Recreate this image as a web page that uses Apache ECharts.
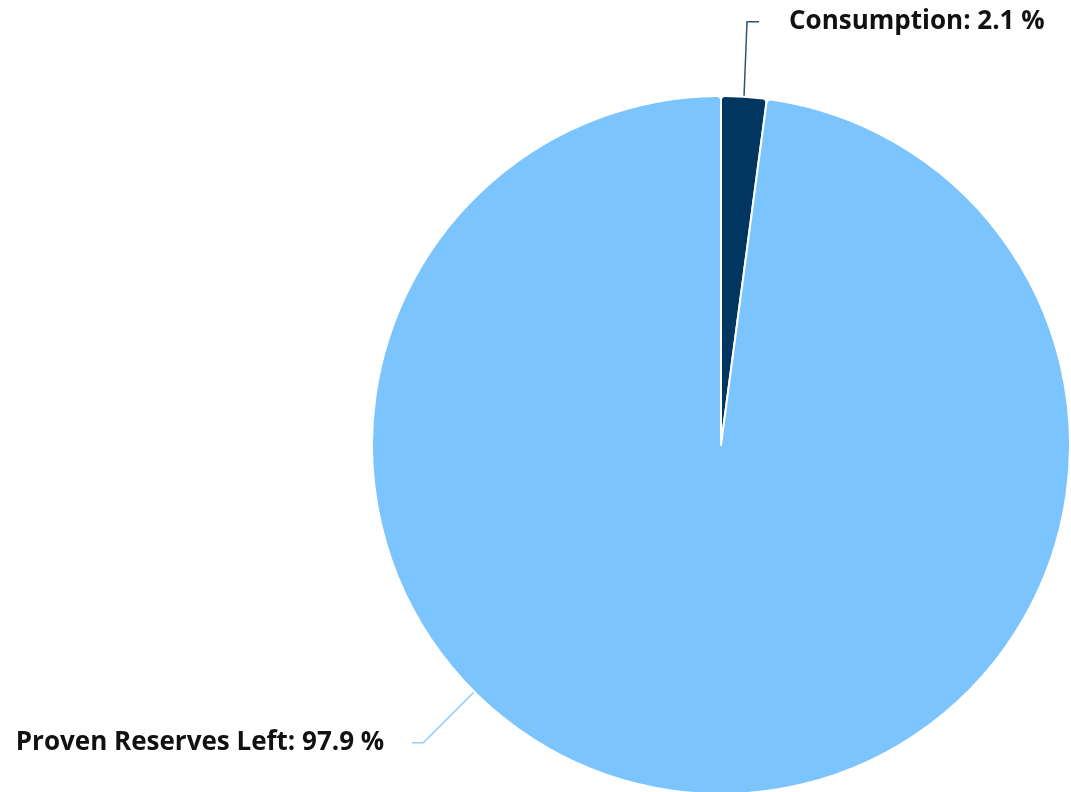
<!DOCTYPE html>
<html>
<head>
<meta charset="utf-8">
<script src="https://cdn.jsdelivr.net/npm/echarts@6/dist/echarts.min.js"></script>
<style>
  html, body { margin: 0; padding: 0; background: #ffffff; }
  #chart { width: 1071px; height: 792px; }
</style>
</head>
<body>
<div id="chart"></div>
<script>
// Share of proven reserves consumed vs. remaining (percent)
const categories = ['Consumption', 'Proven Reserves Left'];
const shares = [2.1, 97.9];
const colors = ['#00365f', '#7cc4fd'];

// Pie geometry (pixels)
const CX = 721, CY = 445, R = 349;

// Point on the pie rim, angle in degrees clockwise from 12 o'clock
function rimPoint(deg) {
  const a = deg * Math.PI / 180;
  return [CX + R * Math.sin(a), CY - R * Math.cos(a)];
}

const total = shares.reduce((s, v) => s + v, 0);

const chart = echarts.init(document.getElementById('chart'), null, { renderer: 'canvas' });

chart.setOption({
  animation: false,
  backgroundColor: '#ffffff',
  series: [{
    type: 'pie',
    center: [CX, CY],
    radius: [0, R],
    startAngle: 90,
    clockwise: true,
    avoidLabelOverlap: false,
    itemStyle: { borderColor: '#ffffff', borderWidth: 2, borderRadius: 4 },
    label: {
      show: true,
      formatter: p => p.name + ': ' + p.value.toFixed(1) + ' %',
      fontFamily: 'Open Sans',
      fontWeight: 'bold',
      fontSize: 26,
      color: '#111111'
    },
    labelLine: { show: true, lineStyle: { width: 1.5 } },
    labelLayout: function (params) {
      if (params.dataIndex === 0) {
        // leader from the middle of the small slice, straight up, then right
        const start = rimPoint(shares[0] / total * 180);
        const knee = [start[0] + 3, start[1] - 75];
        const end = [knee[0] + 12, knee[1]];
        return {
          x: end[0] + 30, y: end[1],
          align: 'left', verticalAlign: 'middle',
          labelLinePoints: [start, knee, end]
        };
      }
      // leader from the lower-left rim, diagonally down, then left
      const start = rimPoint(225);
      const knee = [start[0] - 51, start[1] + 51];
      const end = [knee[0] - 11, knee[1]];
      return {
        x: end[0] - 28, y: end[1],
        align: 'right', verticalAlign: 'middle',
        labelLinePoints: [start, knee, end]
      };
    },
    data: categories.map((name, i) => ({
      name: name,
      value: shares[i],
      itemStyle: { color: colors[i] },
      labelLine: { lineStyle: { color: i === 0 ? '#2e5575' : '#8fcdfd' } }
    }))
  }]
});
</script>
</body>
</html>
